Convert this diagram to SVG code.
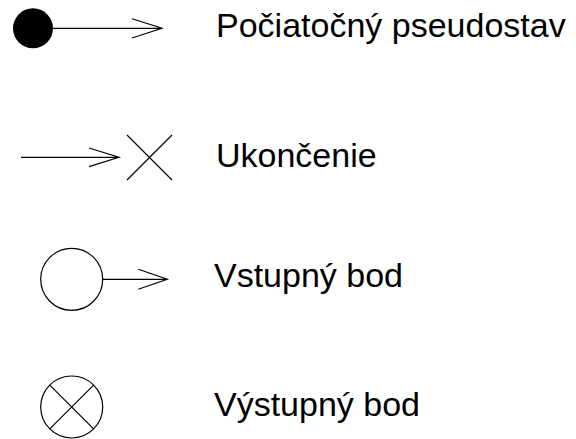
<svg xmlns="http://www.w3.org/2000/svg" width="576" height="439" viewBox="0 0 576 439">
<style>
.ln{stroke:#000;stroke-width:1.2;fill:none}
.lbl{font-family:"Liberation Sans",Arial,sans-serif;font-size:34px;fill:#000}
</style>
<rect width="576" height="439" fill="#fff"/>
<g id="initial">
<circle cx="33" cy="28.3" r="20" fill="#000"/>
</g>
<g id="final">
<path class="ln" d="M127,135 L172,180 M172,135 L127,180"/>
</g>
<g id="entry">
<circle class="ln" cx="71.7" cy="279.3" r="31"/>
</g>
<g id="exit">
<circle class="ln" cx="71.7" cy="407" r="31"/>
<path class="ln" d="M49.8,385.1 L93.6,428.9 M93.6,385.1 L49.8,428.9"/>
</g>
<g id="connectors">
<path class="ln" d="M53,28.3 H162 M132,18.7 L162,28.3 L132,38"/>
<path class="ln" d="M21,157.3 H119 M89,148 L119,157.3 L89,166.6"/>
<path class="ln" d="M102.7,279.3 H167.3 M138.3,269.3 L167.3,279.3 L138.3,289.3"/>
</g>
<g id="labels">
<text class="lbl" x="216" y="37">Počiatočný pseudostav</text>
<text class="lbl" x="216" y="167">Ukončenie</text>
<text class="lbl" x="214" y="287">Vstupný bod</text>
<text class="lbl" x="214" y="416">Výstupný bod</text>
</g>
</svg>
